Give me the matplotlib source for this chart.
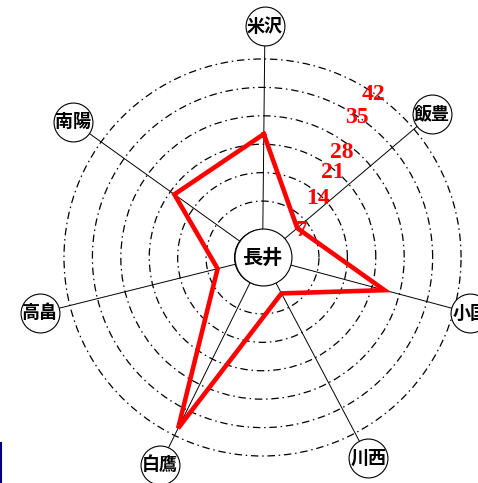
import matplotlib
matplotlib.use('Agg')
import matplotlib.pyplot as plt
import numpy as np
from matplotlib.lines import Line2D

# ---------------- data ----------------
center_name = '長井'
towns = ['米沢', '飯豊', '小国', '川西', '白鷹', '高畠', '南陽']
directions_deg = [89.4, 40.3, -15.0, -62.2, -116.3, -166.0, 144.4]
values = [23.5, 4.3, 24.2, 3.1, 40.0, 4.5, 19.8]
ring_values = [7, 14, 21, 28, 35, 42]
ring_labels = ['7', '14', '21', '28', '35', '42']

# ---------------- layout / style ----------------
label_r = [50.1, 47.8, 46.1, 48.9, 50.0, 49.5, 50.5]
ring_label_angle = [34.8, 46.5, 50.2, 53.0, 55.9, 55.8]
ring_label_r = [4.9, 13.0, 20.2, 25.6, 34.6, 41.5]
RORIGIN = -6.9
RMAX = 53
JP = ['Noto Sans CJK JP', 'DejaVu Sans']

fig = plt.figure(figsize=(4.78, 4.83), dpi=100)
fig.patch.set_facecolor('white')
ax = fig.add_axes([0.0404, -0.0366, 1.0176, 1.007], projection='polar')
ax.set_facecolor('none')
ax.set_theta_zero_location('E')
ax.set_rorigin(RORIGIN)
ax.set_ylim(0, RMAX)
ax.set_yticks(ring_values)
ax.set_yticklabels([])
ax.set_xticks([])
ax.yaxis.grid(True, color='black', lw=0.9, linestyle=(0, (6, 3, 1.2, 3)))
ax.xaxis.grid(False)
ax.spines['polar'].set_visible(False)

th = np.deg2rad(directions_deg)

# spokes
for t, lr in zip(th, label_r):
    ax.plot([t, t], [0, lr], color='black', lw=0.7, zorder=2, clip_on=False)

# data polygon
ax.plot(np.append(th, th[0]), values + values[:1], color='red', lw=3.3,
        zorder=4, solid_joinstyle='miter', clip_on=False)

# town labels in circles
for t, lr, name in zip(th, label_r, towns):
    ax.plot(t, lr, marker='o', ms=28, mfc='white', mec='black', mew=0.8,
            zorder=5, clip_on=False)
    ax.text(t, lr, name, ha='center', va='center', fontsize=13,
            family=JP, fontweight='bold', zorder=6, clip_on=False)

# center circle
ax.plot(0, RORIGIN, marker='o', ms=41, mfc='white', mec='black', mew=0.8,
        zorder=5, clip_on=False)
ax.text(0, RORIGIN, center_name, ha='center', va='center', fontsize=14.5,
        family=JP, fontweight='bold', zorder=6, clip_on=False)

# ring value labels
for a, r, lab in zip(ring_label_angle, ring_label_r, ring_labels):
    ax.text(np.deg2rad(a), r, lab, color='red', fontsize=17, fontweight='bold',
            family='Liberation Serif', ha='center', va='center', zorder=7)

# small blue mark at left edge
fig.add_artist(Line2D([0.002, 0.002], [0, 40 / 483], transform=fig.transFigure,
                      color='#000080', lw=1.5))

fig.savefig('out.png', dpi=100)
